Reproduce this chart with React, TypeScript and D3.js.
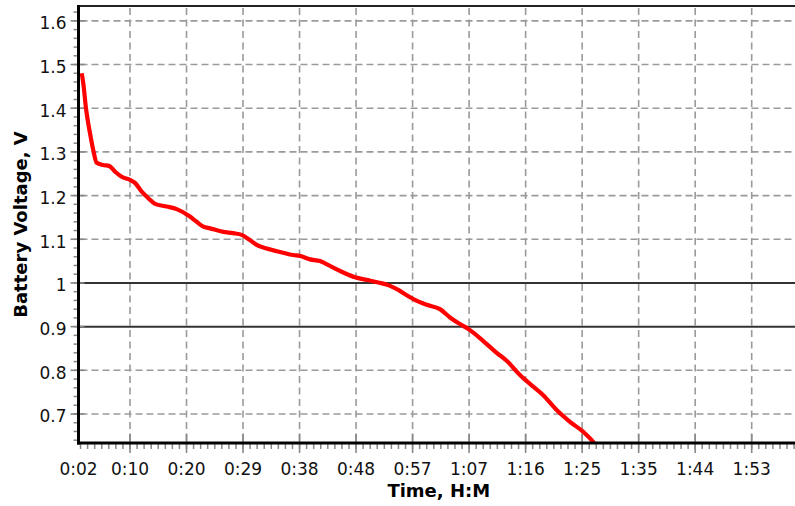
import React from 'react';
import * as d3 from 'd3';

// Battery discharge data: time in minutes, voltage in volts
const timeMinutes = [
  2.43, 2.69, 3.14, 3.81, 4.36, 4.93, 5.99, 6.99, 7.99, 9.11, 10.5, 11.34, 12.46, 13.56,
  14.68, 16.64, 18.31, 20.53, 21.65, 22.76, 23.88, 26.1, 27.77, 29.18, 30.56, 31.68,
  33.36, 35.58, 37.8, 38.92, 40.6, 42.27, 43.1, 44.49, 46.16, 48.12, 50.07, 52.01,
  53.68, 55.36, 56.76, 58.15, 60.11, 62.33, 64.0, 65.67, 67.35, 69.57, 71.81, 73.48,
  75.71, 77.93, 79.6, 81.84, 84.07, 86.29, 87.96, 88.4,
];
const voltage = [
  1.48, 1.457, 1.4, 1.343, 1.304, 1.275, 1.27, 1.268, 1.255, 1.243, 1.236, 1.229, 1.209, 1.194,
  1.181, 1.175, 1.169, 1.152, 1.14, 1.129, 1.125, 1.117, 1.114, 1.11, 1.098, 1.087,
  1.079, 1.071, 1.064, 1.062, 1.054, 1.05, 1.045, 1.035, 1.024, 1.013, 1.007, 1.001,
  0.995, 0.984, 0.972, 0.961, 0.95, 0.94, 0.921, 0.906, 0.892, 0.867, 0.84, 0.822,
  0.789, 0.7625, 0.743, 0.709, 0.682, 0.659, 0.636, 0.628,
];

const xDomain = [1.89, 122.36];
const yDomain = [0.6336, 1.634];
const originLabel = '0:02';
const xTickMinutes = [10.5, 19.95, 29.4, 38.85, 48.3, 57.75, 67.2, 76.65, 86.1, 95.55, 105.0, 114.45];
const xTickLabels = ['0:10', '0:20', '0:29', '0:38', '0:48', '0:57', '1:07', '1:16', '1:25', '1:35', '1:44', '1:53'];
const xMinorStep = 9.45 / 8;
const yTicks = [0.7, 0.8, 0.9, 1.0, 1.1, 1.2, 1.3, 1.4, 1.5, 1.6];
const yTickLabels = ['0.7', '0.8', '0.9', '1', '1.1', '1.2', '1.3', '1.4', '1.5', '1.6'];
const yMinorStep = 0.02;
const thresholds = [1.0, 0.9];
const xTitle = 'Time, H:M';
const yTitle = 'Battery Voltage, V';

const W = 795;
const H = 506;
const L = 78.5;
const R = 799;
const T = 6;
const B = 443;

export default function App() {
  const x = d3.scaleLinear().domain(xDomain).range([L, R]);
  const y = d3.scaleLinear().domain(yDomain).range([B, T]);
  const pts = timeMinutes.map((t, i) => [t, voltage[i]] as [number, number]);
  const line = d3
    .line<[number, number]>()
    .x((d) => x(d[0]))
    .y((d) => y(d[1]))
    .curve(d3.curveMonotoneX);

  const xMinor: number[] = [];
  for (let t = xTickMinutes[0]; t > xDomain[0]; t -= xMinorStep) xMinor.push(t);
  for (let t = xTickMinutes[0]; t < xDomain[1]; t += xMinorStep) xMinor.push(t);
  const yMinor: number[] = [];
  for (let v = yTicks[0]; v > yDomain[0]; v -= yMinorStep) yMinor.push(v);
  for (let v = yTicks[0]; v < yDomain[1]; v += yMinorStep) yMinor.push(v);

  const font = 'DejaVu Sans, Verdana, sans-serif';
  const gridColor = '#9a9a9a';

  return (
    <div style={{ position: 'absolute', left: 0, top: 0 }}>
      <svg width={W} height={H} style={{ display: 'block', background: '#fff' }}>
        <defs>
          <clipPath id="plot">
            <rect x={L} y={T} width={R - L} height={B - T} />
          </clipPath>
        </defs>
        <rect x={0} y={0} width={W} height={H} fill="#fff" />
        {/* horizontal grid */}
        {yTicks
          .filter((v) => !thresholds.some((th) => Math.abs(th - v) < 1e-9))
          .map((v) => (
            <line key={'hg' + v} x1={L + 2} x2={R} y1={y(v)} y2={y(v)} stroke={gridColor}
              strokeWidth={1.6} strokeDasharray="7,4" />
          ))}
        {/* vertical grid */}
        {xTickMinutes.map((t) => (
          <line key={'vg' + t} x1={x(t)} x2={x(t)} y1={T + 2} y2={B} stroke={gridColor}
            strokeWidth={1.6} strokeDasharray="7,4.5" />
        ))}
        {/* thresholds */}
        {thresholds.map((v) => (
          <line key={'th' + v} x1={L} x2={R} y1={y(v)} y2={y(v)} stroke="#333" strokeWidth={2} />
        ))}
        {/* minor ticks */}
        {xMinor.map((t, i) => (
          <line key={'xm' + i} x1={x(t)} x2={x(t)} y1={B} y2={B + 6} stroke="#888" strokeWidth={1.5} />
        ))}
        {yMinor.map((v, i) => (
          <line key={'ym' + i} x1={L - 5} x2={L} y1={y(v)} y2={y(v)} stroke="#888" strokeWidth={1.5} />
        ))}
        {/* major ticks */}
        {xTickMinutes.map((t) => (
          <line key={'xt' + t} x1={x(t)} x2={x(t)} y1={B - 9} y2={B + 10} stroke="#888" strokeWidth={1.6} />
        ))}
        {yTicks.map((v) => (
          <line key={'yt' + v} x1={L - 8} x2={L + 6} y1={y(v)} y2={y(v)} stroke="#888" strokeWidth={1.6} />
        ))}
        {/* data line */}
        <path d={line(pts) || ''} fill="none" stroke="#ff0000" strokeWidth={4.2}
          strokeLinejoin="round" clipPath="url(#plot)" />
        {/* axes */}
        <line x1={L} x2={R} y1={T} y2={T} stroke="#222" strokeWidth={2} />
        <line x1={L} x2={L} y1={T - 1} y2={B + 1.5} stroke="#000" strokeWidth={3} />
        <line x1={L - 1.5} x2={R} y1={B} y2={B} stroke="#000" strokeWidth={3} />
        {/* labels */}
        <text x={x(xDomain[0])} y={475} textAnchor="middle" fontFamily={font} fontSize={17} fill="#111">
          {originLabel}
        </text>
        {xTickMinutes.map((t, i) => (
          <text key={'xl' + t} x={x(t)} y={475} textAnchor="middle" fontFamily={font} fontSize={17} fill="#111">
            {xTickLabels[i]}
          </text>
        ))}
        {yTicks.map((v, i) => (
          <text key={'yl' + v} x={66.5} y={y(v) + 8.5} textAnchor="end" fontFamily={font} fontSize={17} fill="#111">
            {yTickLabels[i]}
          </text>
        ))}
        <text x={(L + R) / 2} y={497} textAnchor="middle" fontFamily={font} fontSize={18} fontWeight="bold" fill="#000">
          {xTitle}
        </text>
        <text transform={`translate(26.5,${(T + B) / 2}) rotate(-90)`} textAnchor="middle" fontFamily={font}
          fontSize={18} fontWeight="bold" fill="#000">
          {yTitle}
        </text>
      </svg>
    </div>
  );
}
